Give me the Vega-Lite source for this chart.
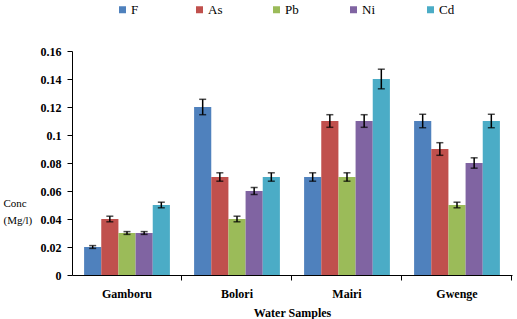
{
  "$schema": "https://vega.github.io/schema/vega-lite/v6.json",
  "width": 440,
  "height": 224,
  "autosize": {"type": "none"},
  "padding": {"left": 72, "top": 51, "right": 5, "bottom": 44},
  "background": "white",
  "config": {
    "view": {"stroke": null},
    "font": "Liberation Serif",
    "axis": {"grid": false, "domainColor": "black", "tickColor": "black", "labelColor": "black", "titleColor": "black", "labelFont": "Liberation Serif", "titleFont": "Liberation Serif"},
    "axisY": {"values": [0, 0.02, 0.04, 0.06, 0.08, 0.1, 0.12, 0.14, 0.16], "format": "~g", "labelOverlap": false, "labelFont": "Liberation Serif", "titleFont": "Liberation Serif", "labelFontWeight": "bold", "labelFontSize": 12, "tickSize": 5, "labelPadding": 6, "titleAngle": 0, "titleFontWeight": "normal", "titleFontSize": 11, "titleAlign": "left", "titleBaseline": "middle", "titleX": -69, "titleY": 152, "titleLineHeight": 17},
    "legend": {"labelFont": "Liberation Serif"}
  },
  "data": {
    "values": [
      {"site": "Gamboru", "metal": "F", "v": 0.02, "e": 0.001},
      {"site": "Gamboru", "metal": "As", "v": 0.04, "e": 0.002},
      {"site": "Gamboru", "metal": "Pb", "v": 0.03, "e": 0.001},
      {"site": "Gamboru", "metal": "Ni", "v": 0.03, "e": 0.001},
      {"site": "Gamboru", "metal": "Cd", "v": 0.05, "e": 0.002},
      {"site": "Bolori", "metal": "F", "v": 0.12, "e": 0.0055},
      {"site": "Bolori", "metal": "As", "v": 0.07, "e": 0.003},
      {"site": "Bolori", "metal": "Pb", "v": 0.04, "e": 0.002},
      {"site": "Bolori", "metal": "Ni", "v": 0.06, "e": 0.0025},
      {"site": "Bolori", "metal": "Cd", "v": 0.07, "e": 0.003},
      {"site": "Mairi", "metal": "F", "v": 0.07, "e": 0.003},
      {"site": "Mairi", "metal": "As", "v": 0.11, "e": 0.0045},
      {"site": "Mairi", "metal": "Pb", "v": 0.07, "e": 0.003},
      {"site": "Mairi", "metal": "Ni", "v": 0.11, "e": 0.0045},
      {"site": "Mairi", "metal": "Cd", "v": 0.14, "e": 0.007},
      {"site": "Gwenge", "metal": "F", "v": 0.11, "e": 0.0048},
      {"site": "Gwenge", "metal": "As", "v": 0.09, "e": 0.0045},
      {"site": "Gwenge", "metal": "Pb", "v": 0.05, "e": 0.002},
      {"site": "Gwenge", "metal": "Ni", "v": 0.08, "e": 0.0037},
      {"site": "Gwenge", "metal": "Cd", "v": 0.11, "e": 0.0048}
    ]
  },
  "transform": [
    {"calculate": "datum.v - datum.e", "as": "lo"},
    {"calculate": "datum.v + datum.e", "as": "hi"}
  ],
  "encoding": {
    "x": {
      "field": "site", "type": "nominal", "sort": ["Gamboru", "Bolori", "Mairi", "Gwenge"],
      "scale": {"paddingInner": 0.22, "paddingOuter": 0.11},
      "axis": {"title": "Water Samples", "labelAngle": 0, "labelFontWeight": "bold", "labelFontSize": 12, "titleFontSize": 12, "titleFontWeight": "bold", "bandPosition": 1.141, "tickSize": 5, "labelPadding": 8, "titlePadding": 8}
    },
    "xOffset": {"field": "metal", "type": "nominal", "sort": ["F", "As", "Pb", "Ni", "Cd"], "scale": {"paddingInner": 0, "paddingOuter": 0}}
  },
  "layer": [
    {
      "mark": {"type": "bar"},
      "encoding": {
        "y": {
          "field": "v", "type": "quantitative",
          "scale": {"domain": [0, 0.16]},
          "axis": {"title": ["Conc", "(Mg/l)"]}
        },
        "color": {
          "field": "metal", "type": "nominal", "sort": ["F", "As", "Pb", "Ni", "Cd"],
          "scale": {"domain": ["F", "As", "Pb", "Ni", "Cd"], "range": ["#4F81BD", "#C0504D", "#9BBB59", "#8064A2", "#4BACC6"]},
          "legend": {"title": null, "orient": "none", "direction": "horizontal", "columns": 5, "legendX": 44, "legendY": -48, "symbolType": "square", "symbolSize": 49, "symbolStrokeWidth": 0, "symbolOpacity": 1, "labelFontSize": 13, "labelColor": "black", "gridAlign": "all", "columnPadding": 46, "labelOffset": 2}
        }
      }
    },
    {
      "mark": {"type": "rule", "color": "black", "strokeWidth": 1.5},
      "encoding": {"y": {"field": "lo", "type": "quantitative"}, "y2": {"field": "hi"}}
    },
    {
      "mark": {"type": "tick", "color": "black", "thickness": 1.5, "size": 7},
      "encoding": {"y": {"field": "lo", "type": "quantitative"}}
    },
    {
      "mark": {"type": "tick", "color": "black", "thickness": 1.5, "size": 7},
      "encoding": {"y": {"field": "hi", "type": "quantitative"}}
    }
  ]
}
